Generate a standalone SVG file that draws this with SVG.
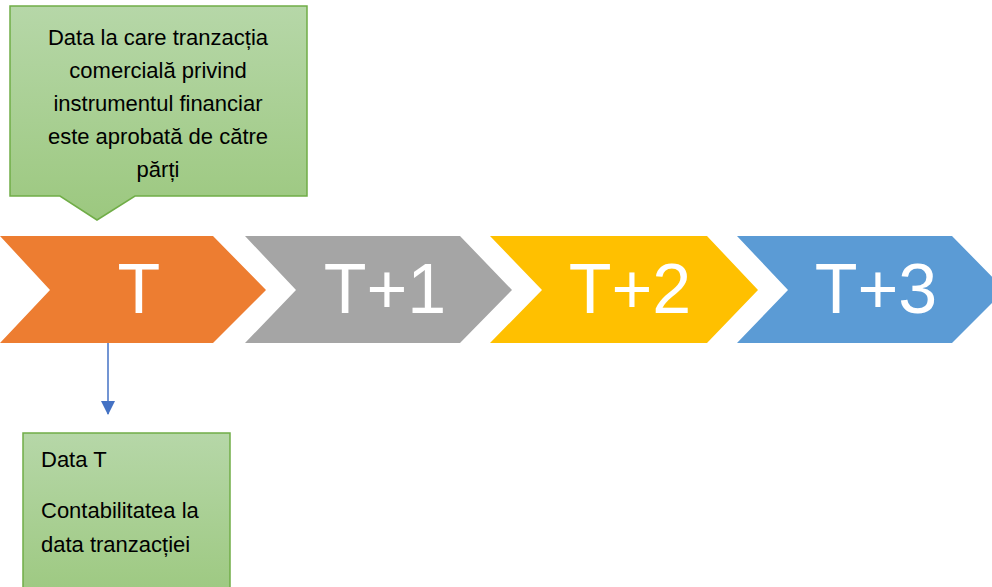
<svg xmlns="http://www.w3.org/2000/svg" width="992" height="587" viewBox="0 0 992 587">
<defs>
<linearGradient id="g" x1="0" y1="0" x2="0" y2="1">
<stop offset="0" stop-color="#B6D7A8"/>
<stop offset="1" stop-color="#9CC87F"/>
</linearGradient>
<marker id="ah" markerWidth="14" markerHeight="14" refX="13" refY="7" orient="auto" markerUnits="userSpaceOnUse" viewBox="0 0 14 14">
<path d="M0,0 L14,7 L0,14 Z" fill="#4472C4"/>
</marker>
<style>
.big{font-family:"Liberation Sans",Arial,sans-serif;font-size:70px;fill:#fff;text-anchor:middle}
.txt{font-family:"Liberation Sans",Arial,sans-serif;font-size:22px;fill:#000}
.box{fill:url(#g);stroke:#70AD47;stroke-width:1.5}
</style>
</defs>
<rect width="992" height="587" fill="#fff"/>
<g id="callout">
<path class="box" d="M10,6 H307 V196 H135 L97,220 L60,196 H10 Z"/>
<text class="txt" text-anchor="middle" x="158" y="45">Data la care tranzacția</text>
<text class="txt" text-anchor="middle" x="158" y="78">comercială privind</text>
<text class="txt" text-anchor="middle" x="158" y="111">instrumentul financiar</text>
<text class="txt" text-anchor="middle" x="158" y="144">este aprobată de către</text>
<text class="txt" text-anchor="middle" x="158" y="177">părți</text>
</g>
<g id="step-T">
<path d="M0,236 H213 L266,290 L213,343 H0 L50,290 Z" fill="#ED7D31"/>
<text class="big" x="139" y="313">T</text>
</g>
<g id="step-T1">
<path d="M245,236 H460 L512,290 L460,343 H245 L296,290 Z" fill="#A5A5A5"/>
<text class="big" x="385" y="313">T+1</text>
</g>
<g id="step-T2">
<path d="M490,236 H707 L758,290 L707,343 H490 L542,290 Z" fill="#FFC000"/>
<text class="big" x="630" y="313">T+2</text>
</g>
<g id="step-T3">
<path d="M737,236 H952 L1005,290 L952,343 H737 L788,290 Z" fill="#5B9BD5"/>
<text class="big" x="876" y="313">T+3</text>
</g>
<g id="connectors">
<line x1="108" y1="343" x2="108" y2="414" stroke="#4472C4" stroke-width="1.5" marker-end="url(#ah)"/>
</g>
<g id="dataT">
<rect class="box" x="23" y="433" width="207" height="170"/>
<text class="txt" x="41" y="467">Data T</text>
<text class="txt" x="41" y="518">Contabilitatea la</text>
<text class="txt" x="41" y="552">data tranzacției</text>
</g>
</svg>
